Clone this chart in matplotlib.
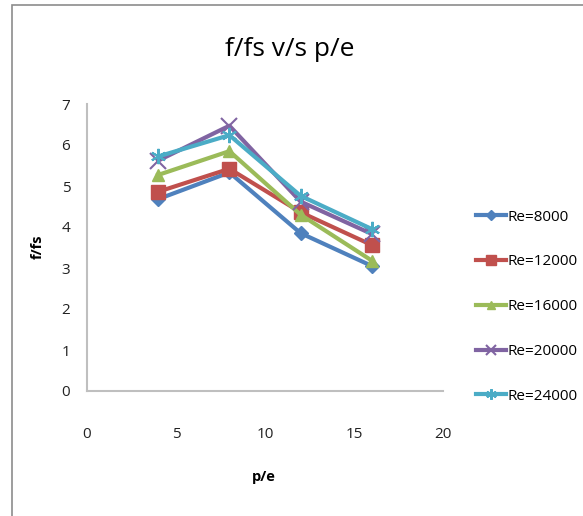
import matplotlib
matplotlib.use('Agg')
import matplotlib.pyplot as plt
from matplotlib.patches import Rectangle

plt.rcParams['font.family'] = ['Open Sans', 'DejaVu Sans']

pe = [4, 8, 12, 16]
re_labels = ['Re=8000', 'Re=12000', 'Re=16000', 'Re=20000', 'Re=24000']
re8000 = [4.68, 5.33, 3.85, 3.05]
re12000 = [4.86, 5.42, 4.36, 3.56]
re16000 = [5.27, 5.85, 4.30, 3.18]
re20000 = [5.62, 6.47, 4.62, 3.83]
re24000 = [5.72, 6.24, 4.76, 3.95]
series = [re8000, re12000, re16000, re20000, re24000]

colors = ['#4F81BD', '#C0504D', '#9BBB59', '#8064A2', '#4BACC6']
markers = ['D', 's', '^', 'x', (6, 2, 0)]
msizes = [7, 10, 9, 11, 11]

fig = plt.figure(figsize=(5.83, 5.16), dpi=100)
# outer chart border
fig.patches.append(Rectangle((12 / 583, -0.1), 1.2, 511 / 516 + 0.1,
                             transform=fig.transFigure, fill=False,
                             edgecolor='#8C8C8C', lw=1.2))
ax = fig.add_axes([87 / 583, 125 / 516, 356 / 583, 287 / 516])

for vals, lab, c, m, ms in zip(series, re_labels, colors, markers, msizes):
    ax.plot(pe, vals, color=c, lw=3, marker=m, markersize=ms,
            markeredgewidth=1.5 if m in ('x', (6, 2, 0)) else 1,
            markeredgecolor=c, label=lab)

ax.set_xlim(0, 20)
ax.set_ylim(0, 7)
ax.set_xticks([0, 5, 10, 15, 20])
ax.set_yticks(range(8))
for s in ['top', 'right']:
    ax.spines[s].set_visible(False)
for s in ['left', 'bottom']:
    ax.spines[s].set_color('#BFBFBF')
    ax.spines[s].set_linewidth(1.5)
ax.tick_params(length=0, labelsize=11, pad=12, colors='#222222')
ax.tick_params(axis='x', pad=26)

fig.text(290 / 583, 1 - 50 / 516, 'f/fs v/s p/e', ha='center', va='center', fontsize=19)
fig.text(38 / 583, 1 - 247 / 516, 'f/fs', ha='center', va='center', rotation=90,
         fontsize=10.5, fontweight='bold')
fig.text(264 / 583, 1 - 477 / 516, 'p/e', ha='center', va='center',
         fontsize=10.5, fontweight='bold')

fig.legend(loc='upper left', bbox_to_anchor=(468 / 583, 1 - 202 / 516),
           frameon=False, fontsize=11, labelspacing=1.95, handlelength=2.0,
           handletextpad=0.1, borderpad=0, markerscale=0.7)

fig.savefig('out.png', dpi=100)
